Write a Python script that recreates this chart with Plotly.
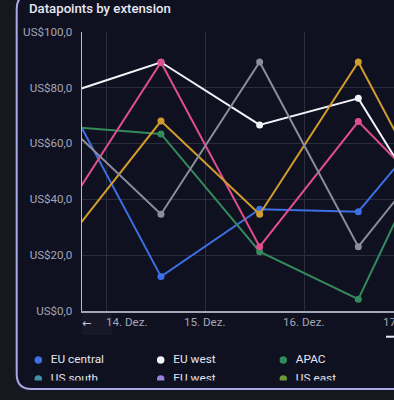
import plotly.graph_objects as go

# ---------------- data ----------------
dates = ["2023-12-13 13:12", "2023-12-14 13:12", "2023-12-15 13:12",
         "2023-12-16 13:12", "2023-12-17 13:12"]
eu_central = [78.6, 12.4, 36.5, 35.6, 77.8]
eu_west = [77.4, 89.0, 66.6, 76.1, 19.1]
apac = [66.1, 63.4, 21.3, 4.3, 78.8]
us_west = [34.3, 89.0, 23.1, 67.8, 31.9]
latam = [23.2, 68.0, 34.7, 89.1, 22.5]
eu_north = [68.1, 34.7, 89.1, 23.1, 67.2]

y_tick_vals = [0, 20, 40, 60, 80, 100]
y_tick_text = ["US$0,0", "US$20,0", "US$40,0", "US$60,0", "US$80,0", "US$100,0"]
x_tick_dates = ["2023-12-14", "2023-12-15", "2023-12-16", "2023-12-17"]
x_tick_text = ["14. Dez.", "15. Dez.", "16. Dez.", "17. Dez."]

legend_names = ["EU central", "EU west", "APAC", "US south", "EU west", "US east"]
legend_colors = ["#3b6fe3", "#f2f2f8", "#338a5c", "#3f90a8", "#9a80d6", "#6a9a3c"]

series = [
    ("EU central", eu_central, "#3b6fe3"),
    ("EU west", eu_west, "#f2f2f8"),
    ("APAC", apac, "#338a5c"),
    ("US west", us_west, "#de4f8c"),
    ("LATAM", latam, "#d29c2c"),
    ("EU north", eu_north, "#8b8c9c"),
]

W, H = 394, 400
def px(x):
    return x / W
def py(y):
    return 1 - y / H

BG_OUT = "#17181f"
BG_PANEL = "#0f1120"
GRID = "#2b2d3d"
TICK = "#a4a5b6"
TITLE = "#e8e8f2"
FONT = "Roboto"
SMALL = 11.6

fig = go.Figure()

for name, vals, col in series:
    fig.add_trace(go.Scatter(
        x=dates, y=vals, name=name, mode="lines+markers",
        line=dict(color=col, width=2),
        marker=dict(color=col, size=7),
        showlegend=False, xaxis="x", yaxis="y",
    ))

# custom legend (clipped like the reference)
col_marker_x = [38.3, 160.7, 283.3]
col_text_x = [50.8, 173.3, 295.8]
row_y = [360, 379]
lx, ly, tx, ty = [], [], [], []
for i, n in enumerate(legend_names):
    r, c = divmod(i, 3)
    lx.append(col_marker_x[c]); ly.append(row_y[r])
    tx.append(col_text_x[c]); ty.append(row_y[r])
fig.add_trace(go.Scatter(
    x=lx, y=ly, mode="markers", marker=dict(color=legend_colors, size=7.5),
    showlegend=False, hoverinfo="skip", xaxis="x2", yaxis="y2", cliponaxis=True,
))
fig.add_trace(go.Scatter(
    x=tx, y=ty, mode="text", text=legend_names, textposition="middle right",
    textfont=dict(family=FONT, size=SMALL + 0.2, color="#e6e6f0"), marker=dict(size=1),
    showlegend=False, hoverinfo="skip", xaxis="x2", yaxis="y2", cliponaxis=True,
))

shapes = []
# panel with rounded corners (top and right run off the picture)
L, T, B, R, rr = 16.7, -6, 389, 420, 15
path = (f"M {px(R)},{py(B)} L {px(L+rr)},{py(B)} Q {px(L)},{py(B)} {px(L)},{py(B-rr)} "
        f"L {px(L)},{py(T+rr)} Q {px(L)},{py(T)} {px(L+rr)},{py(T)} L {px(R)},{py(T)}")
shapes.append(dict(type="path", xref="paper", yref="paper", path=path + " Z",
                   fillcolor=BG_PANEL, line=dict(color="#a9a9e6", width=2), layer="below"))
# arrow button background
shapes.append(dict(type="rect", xref="paper", yref="paper",
                   x0=px(81.7), x1=px(112), y0=py(335), y1=py(313),
                   fillcolor="#161827", line=dict(width=0), layer="below"))
# scroll indicator
shapes.append(dict(type="line", xref="paper", yref="paper",
                   x0=px(386), x1=px(396), y0=py(336.7), y1=py(336.7),
                   line=dict(color="#e8e8f2", width=2)))

annotations = [
    dict(text="Datapoints by extension", xref="paper", yref="paper",
         x=px(27), y=py(8), xanchor="left", yanchor="middle", showarrow=False,
         font=dict(family=FONT, size=13.2, color=TITLE, weight=500)),
    dict(text="←", xref="paper", yref="paper", x=px(86), y=py(323.5),
         xanchor="center", yanchor="middle", showarrow=False,
         font=dict(family="DejaVu Sans", size=11, color="#c8c8d6")),
]
shifts = [20, 0, 0, 0]
for d, t, s in zip(x_tick_dates[:3], x_tick_text[:3], shifts[:3]):
    annotations.append(dict(text=t, xref="x", yref="paper", x=d, y=py(321.7),
                            xanchor="center", yanchor="middle", xshift=s, showarrow=False,
                            font=dict(family=FONT, size=SMALL, color=TICK)))
# last label lies past the visible range: anchor it on the paper at its day line
annotations.append(dict(text=x_tick_text[3], xref="paper", yref="paper", x=px(404),
                        y=py(321.7), xanchor="center", yanchor="middle", showarrow=False,
                        font=dict(family=FONT, size=SMALL, color=TICK)))

fig.update_layout(
    template="none",
    width=W, height=H, margin=dict(l=0, r=0, t=0, b=0, pad=0, autoexpand=False),
    paper_bgcolor=BG_OUT, plot_bgcolor="rgba(0,0,0,0)",
    font=dict(family=FONT, size=12, color=TICK),
    shapes=shapes, annotations=annotations, showlegend=False,
    xaxis=dict(domain=[px(81.7), 1], type="date",
               range=["2023-12-13 17:55", "2023-12-16 21:53"],
               tickvals=x_tick_dates, showticklabels=False, ticks="",
               showgrid=True, gridcolor=GRID, gridwidth=1, automargin=False,
               showline=True, linecolor="#a4a5b8", linewidth=2, zeroline=False,
               fixedrange=True),
    yaxis=dict(domain=[py(311.3), py(31.5)], range=[0, 100],
               tickvals=y_tick_vals, ticktext=y_tick_text, automargin=False,
               showgrid=True, gridcolor=GRID, gridwidth=1, zeroline=False,
               showline=True, linecolor="#b9b9d6", linewidth=1,
               ticks="", ticklabelstandoff=6,
               tickfont=dict(family=FONT, size=SMALL, color=TICK), fixedrange=True),
    xaxis2=dict(domain=[0, 1], range=[0, W], visible=False, fixedrange=True,
                automargin=False),
    yaxis2=dict(domain=[py(380.5), py(345)], range=[380.5, 345], visible=False,
                fixedrange=True, automargin=False),
)

fig.write_html("out.html", config={"displayModeBar": False},
               post_script="document.body.style.margin='0';")
